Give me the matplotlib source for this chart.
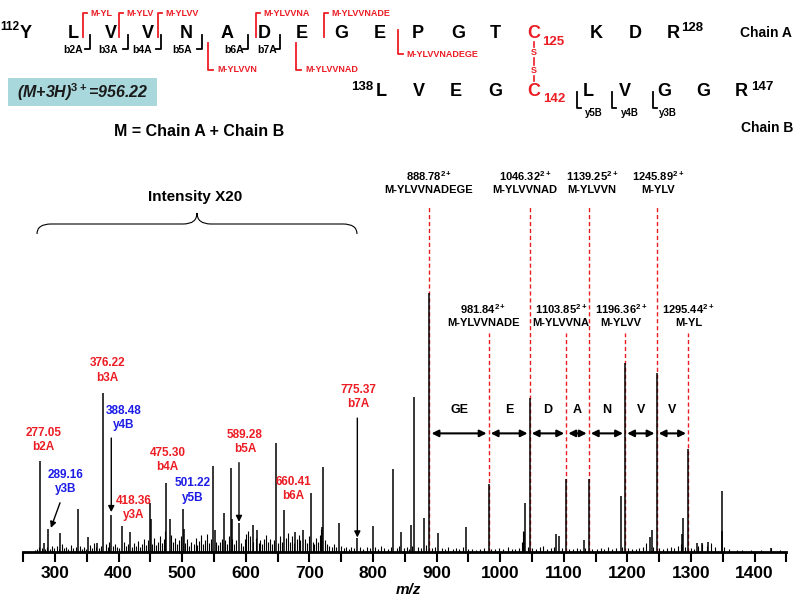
import matplotlib
matplotlib.use('Agg')
import matplotlib.pyplot as plt
from matplotlib.path import Path
from matplotlib.patches import PathPatch, Rectangle

plt.rcParams['font.family'] = ['Liberation Sans', 'DejaVu Sans']
plt.rcParams['font.weight'] = 'bold'
plt.rcParams['mathtext.fontset'] = 'custom'
plt.rcParams['mathtext.rm'] = 'Liberation Sans:bold'
plt.rcParams['mathtext.it'] = 'Liberation Sans:italic:bold'
plt.rcParams['mathtext.bf'] = 'Liberation Sans:bold'

RED = '#ec1c24'
BLUE = '#1c1ce6'

# ---- spectrum data (m/z, relative intensity) ----
peak_mz = [277.05, 282, 289.16, 308, 336.6, 352, 366, 376.22, 388.48, 404.9,
           418.36, 449.4, 451, 475.30, 480.8, 501.22, 503, 548.9, 551, 565.7,
           576.3, 578, 589.28, 612, 618, 647.5, 660.41, 677, 690.4, 702.5,
           720, 721.9, 746.5, 775.37, 799.5, 832, 844, 859.3, 865, 880,
           888.78, 902.7, 945.8, 981.84, 1037, 1039, 1046.32, 1088, 1092.5, 1103.85,
           1131.8, 1139.25, 1189.5, 1196.36, 1235, 1238, 1245.89, 1286, 1288, 1295.44,
           1310, 1318, 1327, 1348, 1349, 1425]
peak_int = [35.1, 3.4, 8.9, 7.3, 16.6, 5.8, 3.5, 61.4, 14.3, 10.0,
            7.7, 18.9, 12.7, 26.6, 12.7, 16.6, 8.9, 33.2, 8.5, 15.1,
            32.4, 12.7, 11.2, 10.4, 8.5, 42.1, 16.2, 7.7, 8.5, 22.8,
            9.7, 32.8, 11.2, 5.5, 10.0, 32.0, 7.7, 10.4, 59.8, 13.1,
            100, 7.3, 9.7, 26.3, 7.7, 18.9, 59.5, 7.0, 6.2, 28.2,
            4.6, 28.2, 21.6, 73.0, 5.8, 8.5, 69.1, 7.0, 13.1, 39.8,
            3.5, 3.5, 3.8, 23.6, 8.0, 1.5]

# low level peaks (baseline "grass")
noise_mz = [268, 272, 275, 279, 284, 287, 292, 295, 299, 303, 306, 311, 314, 318, 321,
            325, 329, 333, 339, 342, 346, 349, 355, 358, 362, 365, 369, 372, 380, 383,
            385, 391, 394, 397, 401, 408, 411, 414, 421, 424, 427, 431, 434, 437, 440,
            443, 447, 453, 456, 459, 462, 465, 468, 471, 473, 483, 486, 489, 492, 495,
            498, 505, 508, 511, 514, 518, 521, 524, 527, 530, 533, 536, 539, 542, 545,
            553, 556, 559, 562, 568, 571, 574, 579, 582, 585, 592, 595, 598, 601, 604,
            607, 611, 616, 620, 623, 626, 629, 632, 635, 638, 641, 644, 651, 654, 657,
            663, 666, 669, 672, 675, 680, 683, 686, 693, 696, 699, 705, 708, 711, 714,
            717, 719, 725, 728, 731, 735, 739, 742, 750, 754, 758, 762, 766, 770, 780,
            785, 790, 795, 803, 808, 813, 818, 823, 828, 837, 841, 849, 853, 856, 862,
            870, 875, 884, 893, 897, 908, 913, 918, 925, 931, 936, 941, 950, 955, 962,
            968, 975, 986, 992, 998, 1004, 1012, 1018, 1024, 1030, 1034, 1036, 1043, 1050, 1057,
            1063, 1068, 1074, 1080, 1085, 1097, 1108, 1115, 1121, 1126, 1134, 1145, 1152, 1158, 1163,
            1170, 1176, 1182, 1192, 1201, 1207, 1213, 1219, 1224, 1230, 1240, 1250, 1256, 1262, 1268,
            1274, 1280, 1284, 1290, 1300, 1305, 1311, 1318, 1325, 1332, 1338, 1352, 1360, 1372, 1380,
            1395, 1410, 1425, 1440]
noise_int = [0.8, 1.2, 2.0, 1.5, 1.0, 1.8, 1.2, 2.5, 1.4, 2.2, 1.0, 3.0, 1.6, 2.0, 1.2,
             2.6, 1.5, 1.8, 2.4, 1.3, 2.0, 1.0, 2.8, 1.6, 3.5, 2.0, 1.4, 2.2, 3.0, 2.0,
             4.0, 2.5, 3.2, 2.0, 1.5, 3.8, 2.2, 3.0, 2.0, 3.6, 2.4, 4.2, 2.0, 3.0, 5.0,
             2.6, 4.5, 3.2, 5.5, 2.8, 4.0, 6.0, 3.5, 5.0, 8.0, 6.5, 4.0, 5.5, 3.0, 4.5,
             6.0, 3.5, 5.0, 2.5, 4.0, 3.0, 5.5, 2.8, 4.2, 6.5, 3.0, 4.8, 7.0, 3.5, 5.0,
             4.0, 2.6, 3.8, 5.0, 4.5, 3.0, 6.0, 5.0, 3.2, 4.5, 3.5, 2.5, 5.0, 7.0, 8.0,
             6.0, 4.0, 5.5, 3.5, 4.5, 3.0, 5.0, 6.5, 4.0, 5.0, 3.0, 4.5, 3.5, 6.0, 4.0,
             5.5, 7.5, 4.0, 6.0, 3.5, 5.0, 6.5, 4.5, 5.0, 3.5, 6.0, 4.0, 3.0, 5.5, 4.0,
             6.5, 9.0, 4.5, 3.0, 2.5, 2.0, 3.0, 1.8, 2.5, 1.5, 2.0, 1.2, 2.0, 1.5, 1.8,
             1.2, 2.0, 1.5, 1.8, 1.2, 2.2, 1.5, 1.2, 2.0, 1.5, 2.5, 1.5, 2.0, 1.2, 2.5,
             2.0, 1.5, 2.8, 1.5, 2.0, 1.5, 1.0, 2.0, 1.2, 1.5, 1.0, 1.8, 1.2, 1.0, 0.8,
             1.2, 1.6, 1.2, 1.0, 1.5, 1.0, 1.8, 1.2, 1.0, 1.5, 4.0, 8.0, 2.0, 1.5, 1.0,
             1.8, 2.5, 1.2, 1.5, 2.0, 1.5, 1.2, 1.0, 1.5, 1.2, 1.5, 1.2, 1.0, 1.5, 1.2,
             2.0, 1.0, 1.5, 2.0, 1.5, 1.2, 1.0, 1.5, 2.0, 3.5, 2.0, 1.5, 1.0, 1.5, 2.0,
             1.5, 2.5, 3.0, 2.0, 1.5, 1.2, 2.5, 3.0, 2.5, 3.5, 2.0, 2.0, 1.0, 0.8, 0.6,
             0.8, 0.6, 1.5, 0.6]

# fragment ion labels in the low m/z region
frag_text = ['277.05\nb2A', '289.16\ny3B', '376.22\nb3A', '388.48\ny4B', '418.36\ny3A',
             '475.30\nb4A', '501.22\ny5B', '589.28\nb5A', '660.41\nb6A', '775.37\nb7A']
frag_chain = ['A', 'B', 'A', 'B', 'A', 'A', 'B', 'A', 'A', 'A']

# doubly charged precursor fragments
ion_mz = [888.78, 981.84, 1046.32, 1103.85, 1139.25, 1196.36, 1245.89, 1295.44]
ion_name = ['M-YLVVNADEGE', 'M-YLVVNADE', 'M-YLVVNAD', 'M-YLVVNA',
            'M-YLVVN', 'M-YLVV', 'M-YLV', 'M-YL']
gap_residue = ['GE', 'E', 'D', 'A', 'N', 'V', 'V']

# sequences
chainA_seq = list('YLVVNADEGEPGTCKDR')
chainB_seq = list('LVEGCLVGGR')
b_ions = ['b2A', 'b3A', 'b4A', 'b5A', 'b6A', 'b7A']
y_ions = ['y5B', 'y4B', 'y3B']
m_upper = ['M-YL', 'M-YLV', 'M-YLVV', 'M-YLVVNA', 'M-YLVVNADE']
m_lower = ['M-YLVVN', 'M-YLVVNAD', 'M-YLVVNADEGE']

fig = plt.figure(figsize=(8, 5.98), dpi=100)
ov = fig.add_axes([0, 0, 1, 1])
ov.set_xlim(0, 800)
ov.set_ylim(598, 0)
ov.axis('off')

ax = fig.add_axes([23.2 / 800, 46 / 598, 763.2 / 800, 362.6 / 598])
ax.patch.set_visible(False)
ax.set_xlim(250, 1450)
ax.set_ylim(0, 140)

# dashed marker lines for the 2+ ions
for i, mz in enumerate(ion_mz):
    top = 134 if i % 2 == 0 else 84.6
    ax.vlines(mz, 0, top, colors=RED, linestyles=(0, (3, 2)), lw=1, zorder=1)

ax.vlines(noise_mz, 0, noise_int, colors='black', lw=0.8, zorder=2)
ax.vlines(peak_mz, 0, peak_int, colors='black', lw=1.1, zorder=3)

# axis styling
for s in ['left', 'right', 'top']:
    ax.spines[s].set_visible(False)
ax.spines['bottom'].set_linewidth(2)
ax.set_yticks([])
ticks = list(range(250, 1451, 50))
ax.set_xticks(ticks)
ax.set_xticklabels([str(t) if t % 100 == 0 else '' for t in ticks],
                   fontsize=12.5, fontweight='bold')
ax.tick_params(axis='x', direction='out', length=7, width=1.5, pad=3)
ov.text(408, 590, 'm/z', ha='center', va='center', fontsize=11, style='italic')

# fragment labels
frag_pos = [(281.6, 43.3), (316.8, 27.1), (382.2, 70.1), (407.4, 51.8), (423.1, 17.0),
            (477.2, 35.6), (515.9, 23.7), (598.7, 42.4), (674.7, 24.2), (776.9, 59.8)]
for txt, ch, (x, y) in zip(frag_text, frag_chain, frag_pos):
    col = BLUE if ch == 'B' else RED
    ax.text(x, y, txt, ha='center', va='center', color=col, fontsize=8.5, linespacing=1.25)

arr = dict(arrowstyle='-|>', color='black', lw=1, mutation_scale=9, shrinkA=0, shrinkB=0)
ax.annotate('', xy=(293.5, 9.3), xytext=(307.9, 19.0), arrowprops=arr)
ax.annotate('', xy=(388.48, 15.4), xytext=(388.48, 44.0), arrowprops=arr)
ax.annotate('', xy=(589.28, 11.6), xytext=(589.28, 34.5), arrowprops=arr)
ax.annotate('', xy=(775.37, 5.6), xytext=(775.37, 51.7), arrowprops=arr)

# 2+ ion labels
ion_lab_x = [887.7, 973.4, 1039, 1095.6, 1143.9, 1189.5, 1248.6, 1295.8]
for i, (mz, name) in enumerate(zip(ion_mz, ion_name)):
    y = 142.8 if i % 2 == 0 else 91.4
    ax.text(ion_lab_x[i], y, '%.2f$^{2+}$\n%s' % (mz, name), ha='center', va='center',
            fontsize=8, linespacing=1.3, clip_on=False)

# residue gaps
for i, res in enumerate(gap_residue):
    ax.annotate('', xy=(ion_mz[i + 1], 45.8), xytext=(ion_mz[i], 45.8),
                arrowprops=dict(arrowstyle='<|-|>', color='black', lw=1.5,
                                mutation_scale=10, shrinkA=1.5, shrinkB=1.5))
    ax.text((ion_mz[i] + ion_mz[i + 1]) / 2, 54.8, res, ha='center', va='center', fontsize=9)

# "Intensity X20" brace
ov.text(195, 197, 'Intensity X20', ha='center', va='center', fontsize=11)
x0, x1, xc, ye, ym, yt, r = 37, 357, 197, 234, 224, 213, 14
verts = [(x0, ye), (x0, ym), (x0 + r, ym), (xc - r, ym), (xc, ym), (xc, yt),
         (xc, ym), (xc + r, ym), (x1 - r, ym), (x1, ym), (x1, ye)]
codes = [Path.MOVETO, Path.CURVE3, Path.CURVE3, Path.LINETO, Path.CURVE3, Path.CURVE3,
         Path.CURVE3, Path.CURVE3, Path.LINETO, Path.CURVE3, Path.CURVE3]
ov.add_patch(PathPatch(Path(verts, codes), fill=False, lw=0.8, ec='black'))

# ---- sequence diagram ----
chainA_x = [25.7, 73, 111, 147.5, 185.8, 226.7, 264, 301.7, 340.8, 380, 418.3, 458,
            495.3, 533.3, 596.7, 635, 673.7]
for aa, x in zip(chainA_seq, chainA_x):
    ov.text(x, 33, aa, ha='center', va='center', fontsize=13,
            color=RED if aa == 'C' else 'black')
ov.text(19, 27, '112', ha='right', va='center', fontsize=8.5)
ov.text(692, 28, '128', ha='center', va='center', fontsize=9.5)
ov.text(553.5, 42, '125', ha='center', va='center', fontsize=9.5, color=RED)
ov.text(766, 33, 'Chain A', ha='center', va='center', fontsize=10)

chainB_x = [381, 418.7, 455.8, 494.8, 534, 588, 625, 664, 703.3, 741.7]
for aa, x in zip(chainB_seq, chainB_x):
    ov.text(x, 92, aa, ha='center', va='center', fontsize=13,
            color=RED if aa == 'C' else 'black')
ov.text(362, 87.5, '138', ha='center', va='center', fontsize=9.5)
ov.text(762.5, 86.5, '147', ha='center', va='center', fontsize=9.5)
ov.text(554, 99, '142', ha='center', va='center', fontsize=9.5, color=RED)
ov.text(767.5, 128.3, 'Chain B', ha='center', va='center', fontsize=10)

# disulfide bond
for ya, yb in [(42, 47), (57.5, 65), (75.5, 81)]:
    ov.plot([534, 534], [ya, yb], color=RED, lw=1.2)
for ys in [52.5, 70.5]:
    ov.text(534, ys, 'S', ha='center', va='center', fontsize=6.5, color=RED)

# b ions (black brackets under chain A)
b_bx = [90, 127.7, 161, 201.7, 248.3, 280]
b_tx = [73, 108.3, 141.7, 181.7, 233.7, 267]
for lab, bx, tx in zip(b_ions, b_bx, b_tx):
    ov.plot([bx, bx, bx - 5], [35, 48.5, 48.5], color='black', lw=1.3)
    ov.text(tx, 50, lab, ha='center', va='center', fontsize=7.5)

# M- ions above chain A (red)
mu_x = [83.3, 119, 158.3, 256, 324.3]
for lab, bx in zip(m_upper, mu_x):
    ov.plot([bx + 4, bx, bx], [12.7, 12.7, 36.5], color=RED, lw=1.3)
    ov.text(bx + 7.5, 13.3, lab, ha='left', va='center', fontsize=6.5, color=RED)

# M- ions below chain A (red)
ml_x = [208.3, 296, 397.5]
ml_y = [(43, 70), (43, 70), (30, 54.3)]
for lab, bx, (ya, yb) in zip(m_lower, ml_x, ml_y):
    ov.plot([bx, bx, bx + 5], [ya, yb, yb], color=RED, lw=1.3)
    ov.text(bx + 9, yb, lab, ha='left', va='center', fontsize=6.5, color=RED)

# y ions (black brackets under chain B)
y_bx = [576.7, 611.7, 652.7]
y_tx = [593.3, 630, 668.3]
for lab, bx, tx in zip(y_ions, y_bx, y_tx):
    ov.plot([bx, bx, bx + 4], [91.7, 108.3, 108.3], color='black', lw=1.3)
    ov.text(tx, 113.3, lab, ha='center', va='center', fontsize=7)

# precursor box
ov.add_patch(Rectangle((8.3, 78.3), 148.4, 27.7, fc='#a8d8dc', ec='none'))
ov.text(82.5, 92.5, '(M+3H)$^{3+}$=956.22', ha='center', va='center', fontsize=11.5,
        style='italic', color='#1a1a1a')
ov.text(199, 131.7, 'M = Chain A + Chain B', ha='center', va='center', fontsize=11.5)

fig.savefig('out.png', dpi=100)
